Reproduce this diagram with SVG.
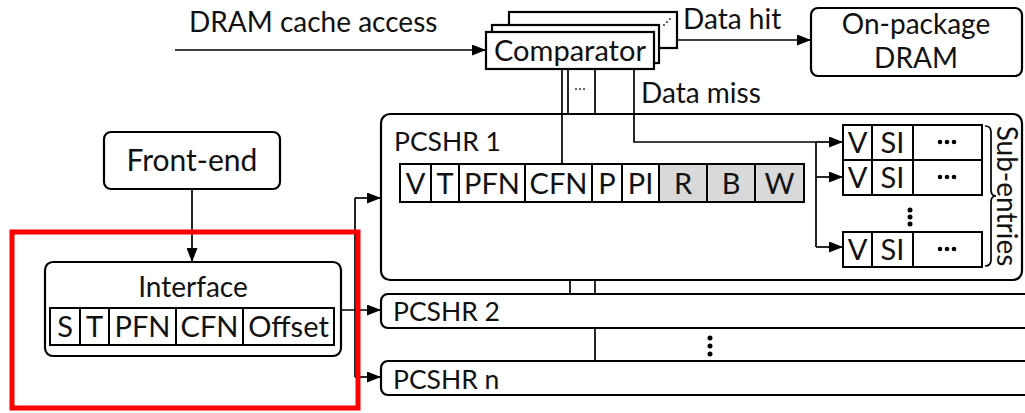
<svg xmlns="http://www.w3.org/2000/svg" width="1025" height="413" viewBox="0 0 1025 413">
<defs>
<marker id="ah" viewBox="0 0 14 11" refX="14" refY="5.5" markerWidth="14" markerHeight="11" markerUnits="userSpaceOnUse" orient="auto">
<path d="M0,0 L14,5.5 L0,11 Z" fill="#000"/>
</marker>
</defs>
<style>
text{font-family:Lato,"Liberation Sans",sans-serif;fill:#111;}
.t{font-size:28px;}
.p{font-size:26.5px;}
.f{font-size:29px;text-anchor:middle;}
.box{fill:#fff;stroke:#000;stroke-width:2.2;}
.cell{fill:#fff;stroke:#000;stroke-width:2;}
.grey{fill:#d9d9d9;stroke:#000;stroke-width:2;}
.ln{fill:none;stroke:#000;stroke-width:1.7;}
.arr{fill:none;stroke:#000;stroke-width:1.7;marker-end:url(#ah);}
</style>
<rect width="1025" height="413" fill="#fff"/>

<g id="label-access"><text class="t" x="189" y="32">DRAM cache access</text></g>

<g id="comparator">
<rect class="box" x="509" y="12" width="168" height="36"/>
<rect class="box" x="492" y="25" width="167" height="38"/>
<rect class="box" x="486" y="32" width="168" height="37"/>
<text x="570" y="61" text-anchor="middle" font-size="29">Comparator</text>
<g fill="#333"><circle cx="664" cy="25" r="1"/><circle cx="667" cy="22" r="1"/><circle cx="670" cy="19" r="1"/></g>
</g>

<g id="label-hit"><text class="t" x="683" y="29">Data hit</text></g>
<g id="label-miss"><text class="t" x="641" y="103">Data miss</text></g>

<g id="dram">
<rect class="box" x="811" y="8" width="211" height="68" rx="7"/>
<text class="t" x="916" y="34" text-anchor="middle">On-package</text>
<text class="t" x="916" y="68" text-anchor="middle">DRAM</text>
</g>

<g id="pcshr1">
<rect class="box" x="381" y="114" width="641" height="166" rx="9"/>
<text class="p" x="394" y="151">PCSHR 1</text>
<rect class="cell" x="400" y="164" width="31" height="38"/>
<rect class="cell" x="431" y="164" width="28" height="38"/>
<rect class="cell" x="459" y="164" width="66" height="38"/>
<rect class="cell" x="525" y="164" width="67" height="38"/>
<rect class="cell" x="592" y="164" width="30" height="38"/>
<rect class="cell" x="622" y="164" width="37" height="38"/>
<rect class="grey" x="659" y="164" width="48" height="38"/>
<rect class="grey" x="707" y="164" width="48" height="38"/>
<rect class="grey" x="755" y="164" width="49" height="38"/>
<text class="f" x="415.5" y="194">V</text>
<text class="f" x="445" y="194">T</text>
<text class="f" x="492" y="194">PFN</text>
<text class="f" x="558.5" y="194">CFN</text>
<text class="f" x="607" y="194">P</text>
<text class="f" x="640.5" y="194">PI</text>
<text class="f" x="683" y="194">R</text>
<text class="f" x="731" y="194">B</text>
<text class="f" x="779.5" y="194">W</text>
</g>

<g id="subentries">
<rect class="cell" x="843" y="125" width="29" height="35"/>
<rect class="cell" x="872" y="125" width="41" height="35"/>
<rect class="cell" x="913" y="125" width="69" height="35"/>
<rect class="cell" x="843" y="160" width="29" height="35"/>
<rect class="cell" x="872" y="160" width="41" height="35"/>
<rect class="cell" x="913" y="160" width="69" height="35"/>
<rect class="cell" x="843" y="232" width="29" height="35"/>
<rect class="cell" x="872" y="232" width="41" height="35"/>
<rect class="cell" x="913" y="232" width="69" height="35"/>
<text class="f" x="857.5" y="153">V</text>
<text class="f" x="892.5" y="153">SI</text>
<text class="f" x="857.5" y="188">V</text>
<text class="f" x="892.5" y="188">SI</text>
<text class="f" x="857.5" y="260">V</text>
<text class="f" x="892.5" y="260">SI</text>
<g fill="#000">
<circle cx="940" cy="142" r="2.3"/><circle cx="947" cy="142" r="2.3"/><circle cx="954" cy="142" r="2.3"/>
<circle cx="940" cy="177" r="2.3"/><circle cx="947" cy="177" r="2.3"/><circle cx="954" cy="177" r="2.3"/>
<circle cx="940" cy="249" r="2.3"/><circle cx="947" cy="249" r="2.3"/><circle cx="954" cy="249" r="2.3"/>
<circle cx="910" cy="210" r="2.5"/><circle cx="910" cy="217" r="2.5"/><circle cx="910" cy="224" r="2.5"/>
</g>
<path class="ln" d="M985,126 Q991,126 991,132 V190 Q991,196 996,196 Q991,196 991,202 V260 Q991,266 985,266"/>
<text transform="translate(997,196) rotate(90)" text-anchor="middle" font-size="28">Sub-entries</text>
</g>

<g id="pcshr2">
<rect class="box" x="381" y="294" width="660" height="34" rx="7"/>
<text class="p" x="393" y="321">PCSHR 2</text>
</g>
<g id="vdots"><circle cx="710" cy="338" r="2.5"/><circle cx="710" cy="346" r="2.5"/><circle cx="710" cy="354" r="2.5"/></g>
<g id="pcshrn">
<rect class="box" x="381" y="361" width="660" height="34" rx="7"/>
<text class="p" x="393" y="389">PCSHR n</text>
</g>

<g id="frontend">
<rect class="box" x="104" y="132" width="176" height="57" rx="7"/>
<text x="192" y="171" text-anchor="middle" font-size="30">Front-end</text>
</g>

<g id="interface">
<rect class="box" x="45" y="262" width="296" height="94" rx="8"/>
<text class="t" x="193" y="297" text-anchor="middle">Interface</text>
<rect class="cell" x="50" y="308" width="30" height="37"/>
<rect class="cell" x="80" y="308" width="29" height="37"/>
<rect class="cell" x="109" y="308" width="67" height="37"/>
<rect class="cell" x="176" y="308" width="67" height="37"/>
<rect class="cell" x="243" y="308" width="91" height="37"/>
<text class="f" x="65" y="337">S</text>
<text class="f" x="94.5" y="337">T</text>
<text class="f" x="142.5" y="337">PFN</text>
<text class="f" x="209.5" y="337">CFN</text>
<text class="f" x="288.5" y="337">Offset</text>
</g>

<g id="connectors">
<path class="arr" d="M175,50 H486"/>
<path class="arr" d="M677,40 H811"/>
<path class="ln" d="M562,69 V164"/>
<path class="ln" d="M568,69 V114"/>
<path class="ln" d="M595,69 V114"/>
<path class="ln" d="M634,69 V142 H816 V247"/>
<path class="arr" d="M816,142 H843"/>
<path class="arr" d="M816,177 H843"/>
<path class="arr" d="M816,247 H843"/>
<path class="arr" d="M192,189 V262"/>
<path class="arr" d="M341,310 H381"/>
<path class="ln" d="M355,198 V377"/>
<path class="arr" d="M355,198 H381"/>
<path class="arr" d="M355,377 H381"/>
<path class="ln" d="M570,280 V294"/>
<path class="ln" d="M595,280 V294"/>
<path class="ln" d="M595,328 V361"/>
<g fill="#333"><circle cx="576" cy="89" r="1"/><circle cx="580" cy="89" r="1"/><circle cx="584" cy="89" r="1"/></g>
</g>

<rect id="highlight" x="12" y="232" width="346" height="176" fill="none" stroke="#f00" stroke-width="5"/>
</svg>
